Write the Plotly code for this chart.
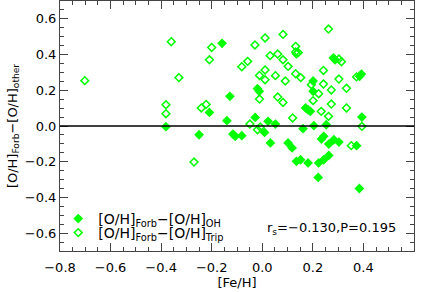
import plotly.graph_objects as go

# [O/H]Forb - [O/H]OH (filled diamonds)
oh_feh = [-0.159, -0.128, -0.209, -0.140, -0.381, -0.250, -0.116, -0.107, -0.081, -0.028,
          0.023, 0.052, 0.009, 0.032, 0.102, 0.118, 0.161, 0.204, 0.253, 0.190,
          0.181, 0.171, 0.201, 0.201, -0.019, -0.012, 0.281, 0.288, 0.392, 0.385,
          0.394, 0.234, 0.243, 0.263, 0.283, 0.303, 0.373, 0.135, 0.151, 0.181,
          0.223, 0.243, 0.263, 0.221, 0.384]
oh_diff = [0.463, 0.166, 0.076, 0.030, -0.004, -0.049, -0.045, -0.058, -0.054, 0.048,
           0.026, 0.011, -0.036, -0.095, -0.095, -0.123, -0.015, 0.002, 0.007, 0.082,
           0.091, 0.101, 0.194, 0.252, 0.209, 0.194, 0.381, 0.371, 0.291, 0.278,
           0.050, -0.073, -0.058, -0.101, -0.077, -0.090, -0.110, -0.198, -0.189, -0.207,
           -0.207, -0.189, -0.165, -0.288, -0.350]

# [O/H]Forb - [O/H]Trip (open diamonds)
trip_feh = [-0.702, -0.360, -0.200, -0.209, -0.330, -0.381, -0.381, -0.222, -0.241, -0.270,
            0.262, 0.082, 0.011, -0.029, 0.132, 0.132, 0.142, 0.135, 0.061, 0.031,
            0.082, 0.303, 0.313, -0.058, -0.081, 0.102, 0.011, -0.011, 0.011, 0.242,
            0.052, 0.132, 0.152, 0.091, 0.373, 0.303, 0.194, 0.242, 0.273, 0.333,
            0.223, -0.011, 0.061, 0.082, 0.201, 0.273, 0.233, 0.333, 0.120, 0.262,
            -0.049, -0.019, -0.008, 0.394, 0.352]
trip_diff = [0.254, 0.472, 0.440, 0.371, 0.271, 0.119, 0.069, 0.121, 0.101, -0.202,
             0.543, 0.513, 0.493, 0.454, 0.446, 0.415, 0.411, 0.405, 0.403, 0.394,
             0.371, 0.375, 0.360, 0.362, 0.332, 0.334, 0.314, 0.283, 0.259, 0.311,
             0.282, 0.293, 0.271, 0.252, 0.275, 0.263, 0.231, 0.235, 0.202, 0.211,
             0.181, 0.151, 0.162, 0.132, 0.142, 0.123, 0.082, 0.101, 0.045, 0.054,
             0.011, -0.021, -0.006, -0.002, -0.110]

x_ticks = [-0.8, -0.6, -0.4, -0.2, 0.0, 0.2, 0.4, 0.6]
y_ticks = [-0.6, -0.4, -0.2, 0.0, 0.2, 0.4, 0.6]
stat_text = "r<sub>s</sub>=\u22120.130,P=0.195"

GREEN = "#00ff00"
FONT = "DejaVu Sans"

fig = go.Figure()
fig.add_trace(go.Scatter(
    x=oh_feh, y=oh_diff, mode="markers",
    name="[O/H]<sub>Forb</sub>\u2212[O/H]<sub>OH</sub>",
    marker=dict(symbol="diamond", size=7.5, color=GREEN, line=dict(width=0)),
    legend="legend",
))
fig.add_trace(go.Scatter(
    x=trip_feh, y=trip_diff, mode="markers",
    name="[O/H]<sub>Forb</sub>\u2212[O/H]<sub>Trip</sub>",
    marker=dict(symbol="diamond-open", size=6, color=GREEN, line=dict(width=1.5, color=GREEN)),
    legend="legend2",
))

fig.add_hline(y=0, line=dict(color="black", width=1.3))

def fmt(v):
    s = f"{v:.1f}"
    return s.replace("-", "\u2212")

axis_common = dict(
    showline=True, mirror="allticks", linecolor="#444", linewidth=1,
    ticks="inside", ticklen=8, tickcolor="#444", tickwidth=1,
    showgrid=False, zeroline=False, automargin=False,
    tickfont=dict(family=FONT, size=13, color="black"),
)

fig.update_xaxes(
    range=[-0.8, 0.6], tickvals=x_ticks, ticktext=[fmt(v) for v in x_ticks],
    minor=dict(dtick=0.05, ticks="inside", ticklen=4, tickcolor="#444", showgrid=False),
    title=dict(text="[Fe/H]", font=dict(family=FONT, size=13, color="black"), standoff=0),
    ticklabelstandoff=4,
    **axis_common,
)
fig.update_yaxes(
    range=[-0.7, 0.7], tickvals=y_ticks, ticktext=[fmt(v) for v in y_ticks],
    minor=dict(dtick=0.05, ticks="inside", ticklen=4, tickcolor="#444", showgrid=False),
    title=dict(text="[O/H]<sub>Forb</sub>\u2212[O/H]<sub>other</sub>",
               font=dict(family=FONT, size=13, color="black"), standoff=4),
    **axis_common,
)

fig.add_annotation(
    text=stat_text, xref="paper", yref="paper", x=0.955, y=0.09,
    xanchor="right", yanchor="middle", showarrow=False,
    font=dict(family=FONT, size=13, color="black"),
)

leg_common = dict(xanchor="left", yanchor="middle",
                  bgcolor="rgba(0,0,0,0)", borderwidth=0,
                  font=dict(family=FONT, size=14, color="black"),
                  tracegroupgap=0, itemwidth=30)

fig.update_layout(
    width=424, height=292,
    margin=dict(l=60, r=10, t=1, b=41),
    paper_bgcolor="white", plot_bgcolor="white",
    showlegend=True,
    legend=dict(x=-0.005, y=0.128, **leg_common),
    legend2=dict(x=-0.005, y=0.072, **leg_common),
    font=dict(family=FONT, size=13, color="black"),
)

fig.write_html("out.html", config={"displayModeBar": False},
               post_script="document.body.style.margin='0';")
